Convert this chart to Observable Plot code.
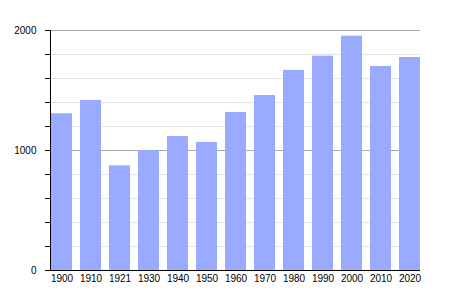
<!DOCTYPE html>
<html>
<head>
<meta charset="utf-8">
<script src="https://cdn.jsdelivr.net/npm/d3@7"></script>
<script src="https://cdn.jsdelivr.net/npm/@observablehq/plot@0.6"></script>
<style>
  html, body { margin: 0; padding: 0; background: #fff; }
  svg { display: block; }
</style>
</head>
<body>
<div id="chart"></div>
<script>
const years = ["1900","1910","1921","1930","1940","1950","1960","1970","1980","1990","2000","2010","2020"];
const population = [1306, 1417, 872, 999, 1117, 1067, 1317, 1458, 1667, 1786, 1953, 1700, 1775];
const minorTicks = [200, 400, 600, 800, 1200, 1400, 1600, 1800];
const majorTicks = [0, 1000, 2000];
const allTicks = d3.range(0, 2001, 200);

const data = years.map((y, i) => ({year: y, value: population[i]}));

const chart = Plot.plot({
  width: 450,
  height: 300,
  marginLeft: 50,
  marginRight: 30,
  marginTop: 30,
  marginBottom: 30,
  style: {fontFamily: "'Liberation Sans', Arial, sans-serif", fontSize: "10px", background: "#fff", color: "#000"},
  x: {domain: years, paddingInner: 0.29, paddingOuter: 0, insetLeft: 1, label: null},
  y: {domain: [0, 2000], label: null},
  marks: [
    Plot.gridY(minorTicks, {stroke: "#e2e2e2", strokeOpacity: 1}),
    Plot.gridY([1000, 2000], {stroke: "#a8a8a8", strokeOpacity: 1}),
    Plot.barY(data, {x: "year", y: "value", fill: "#99aaff"}),
    Plot.axisY(allTicks, {tickSize: 5, tickFormat: () => "", stroke: "#000"}),
    Plot.axisY(majorTicks, {tickSize: 5, tickPadding: 9, tickFormat: d => String(d), stroke: "#000", fill: "#000"}),
    Plot.axisX({tickSize: 0, tickPadding: 4, fill: "#000"}),
    Plot.frame({anchor: "left", stroke: "#000"}),
    Plot.ruleY([0], {stroke: "#000"})
  ]
});
document.getElementById("chart").appendChild(chart);
</script>
</body>
</html>
